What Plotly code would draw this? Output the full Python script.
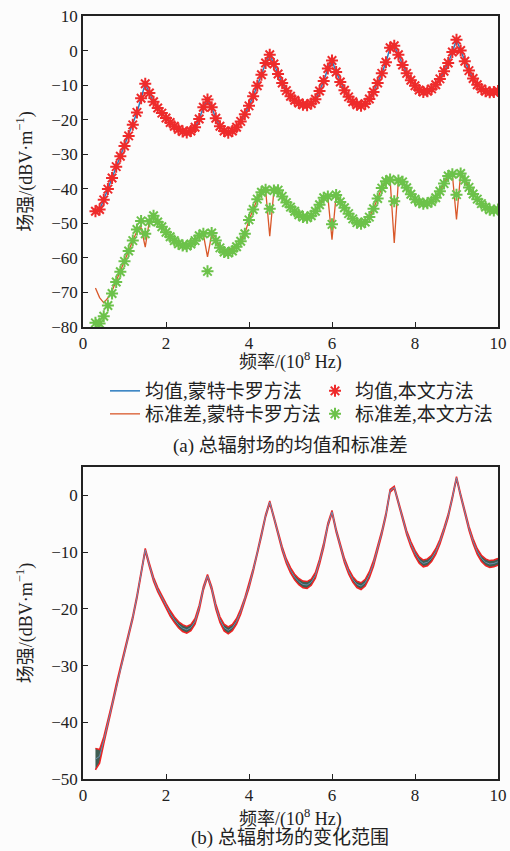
import plotly.graph_objects as go

# ---------------- data ----------------
freq = [0.3, 0.4, 0.5, 0.6, 0.7, 0.8, 0.9, 1.0, 1.1, 1.2, 1.3, 1.4, 1.5, 1.6, 1.7, 1.8, 1.9,
        2.0, 2.1, 2.2, 2.3, 2.4, 2.5, 2.6, 2.7, 2.8, 2.9, 3.0, 3.1, 3.2, 3.3, 3.4, 3.5, 3.6,
        3.7, 3.8, 3.9, 4.0, 4.1, 4.2, 4.3, 4.4, 4.5, 4.6, 4.7, 4.8, 4.9, 5.0, 5.1, 5.2, 5.3,
        5.4, 5.5, 5.6, 5.7, 5.8, 5.9, 6.0, 6.1, 6.2, 6.3, 6.4, 6.5, 6.6, 6.7, 6.8, 6.9, 7.0,
        7.1, 7.2, 7.3, 7.4, 7.5, 7.6, 7.7, 7.8, 7.9, 8.0, 8.1, 8.2, 8.3, 8.4, 8.5, 8.6, 8.7,
        8.8, 8.9, 9.0, 9.1, 9.2, 9.3, 9.4, 9.5, 9.6, 9.7, 9.8, 9.9, 10.0]

mean_mc = [-46.5, -46.0, -43.2, -40.1, -36.9, -33.6, -30.6, -27.6, -24.7, -21.5, -17.9, -13.8,
           -9.6, -12.3, -14.8, -16.6, -18.1, -19.5, -20.8, -21.9, -22.8, -23.4, -23.7, -23.3,
           -22.2, -19.8, -16.4, -14.2, -16.4, -19.6, -21.9, -23.3, -23.8, -23.3, -22.2, -20.5,
           -18.4, -16.0, -13.2, -10.2, -7.0, -3.6, -1.2, -3.9, -6.8, -9.4, -11.6, -13.2, -14.4,
           -15.2, -15.7, -15.8, -15.3, -14.1, -11.7, -8.8, -5.2, -2.9, -6.2, -9.1, -11.5, -13.4,
           -14.8, -15.7, -16.0, -15.4, -14.0, -12.0, -9.4, -6.6, -3.4, 0.8, 1.4, -1.2, -4.2,
           -6.6, -8.6, -10.2, -11.4, -12.0, -11.8, -11.1, -9.9, -8.2, -6.0, -3.6, -0.4, 3.1,
           0.0, -3.1, -5.8, -8.1, -9.9, -11.1, -11.8, -12.1, -12.0, -11.7]

mean_ours = [-46.5, -46.0, -43.2, -40.1, -36.9, -33.6, -30.6, -27.6, -24.7, -21.5, -17.9, -13.8,
             -9.6, -12.3, -14.8, -16.6, -18.1, -19.5, -20.8, -21.9, -22.8, -23.4, -23.7, -23.3,
             -22.2, -19.8, -16.4, -14.2, -16.4, -19.6, -21.9, -23.3, -23.8, -23.3, -22.2, -20.5,
             -18.4, -16.0, -13.2, -10.2, -7.0, -3.6, -1.2, -3.9, -6.8, -9.4, -11.6, -13.2, -14.4,
             -15.2, -15.7, -15.8, -15.3, -14.1, -11.7, -8.8, -5.2, -2.9, -6.2, -9.1, -11.5, -13.4,
             -14.8, -15.7, -16.0, -15.4, -14.0, -12.0, -9.4, -6.6, -3.4, 0.8, 1.4, -1.2, -4.2,
             -6.6, -8.6, -10.2, -11.4, -12.0, -11.8, -11.1, -9.9, -8.2, -6.0, -3.6, -0.4, 3.1,
             0.0, -3.1, -5.8, -8.1, -9.9, -11.1, -11.8, -12.1, -12.0, -11.7]

std_mc = [-68.7, -71.5, -73.0, -71.6, -69.6, -66.8, -64.0, -61.0, -58.0, -55.0, -52.3, -51.2,
          -56.9, -49.2, -48.0, -49.6, -51.0, -52.6, -53.9, -55.0, -55.9, -56.4, -56.6, -56.0,
          -55.0, -53.6, -53.2, -59.7, -53.3, -55.0, -56.9, -57.8, -57.7, -57.3, -56.5, -55.0,
          -53.0, -49.0, -46.0, -43.0, -41.0, -40.3, -53.7, -40.5, -40.4, -42.2, -44.0, -45.3,
          -46.5, -47.5, -48.2, -48.4, -47.8, -46.5, -44.6, -42.6, -42.2, -54.7, -41.8, -43.8,
          -45.5, -47.2, -48.7, -49.8, -50.1, -49.6, -48.2, -45.8, -42.8, -39.8, -37.8, -37.3,
          -55.7, -37.6, -38.0, -39.7, -41.6, -43.0, -43.9, -44.3, -44.2, -43.7, -42.6, -40.7,
          -38.5, -36.3, -35.8, -48.9, -35.6, -37.5, -39.6, -41.5, -43.0, -44.3, -45.3, -46.1,
          -46.3, -46.0]

std_ours = [-78.8, -79.0, -76.9, -73.8, -70.3, -67.0, -64.0, -61.0, -58.0, -55.0, -51.8, -49.3,
            -53.0, -49.5, -47.8, -49.6, -51.0, -52.6, -53.9, -55.0, -55.9, -56.4, -56.6, -56.0,
            -55.0, -53.6, -53.0, -63.9, -52.8, -55.0, -57.1, -58.3, -58.6, -58.0, -56.8, -55.2,
            -53.0, -49.0, -46.0, -43.0, -41.0, -40.3, -45.8, -40.5, -40.4, -42.2, -44.0, -45.3,
            -46.5, -47.5, -48.2, -48.4, -47.8, -46.5, -44.6, -42.6, -42.2, -50.3, -41.8, -43.8,
            -45.5, -47.2, -48.7, -49.8, -50.1, -49.6, -48.2, -45.8, -42.8, -39.8, -37.8, -37.3,
            -43.6, -37.6, -38.0, -39.7, -41.6, -43.0, -43.9, -44.3, -44.2, -43.7, -42.6, -40.7,
            -38.5, -36.3, -35.8, -41.7, -35.6, -37.5, -39.6, -41.5, -43.0, -44.3, -45.3, -46.1,
            -46.3, -46.0]

# half spread of the Monte Carlo sample range (panel b)
band_spread = [1.9, 1.2, 0.6,
               0.35, 0.3, 0.3, 0.3, 0.3, 0.3, 0.3, 0.3, 0.3,
               0.25,
               0.3, 0.35, 0.4, 0.4, 0.45,
               0.5, 0.5, 0.55, 0.6, 0.6, 0.55, 0.5, 0.45, 0.35,
               0.25,
               0.35, 0.45, 0.5, 0.6, 0.6, 0.55, 0.5, 0.45, 0.4,
               0.35, 0.3, 0.3, 0.25, 0.25,
               0.2,
               0.25, 0.3, 0.35, 0.4, 0.45, 0.5, 0.55, 0.6, 0.6, 0.55, 0.5, 0.45, 0.4, 0.3,
               0.25,
               0.3, 0.35, 0.4, 0.45, 0.5, 0.55, 0.6, 0.6, 0.55, 0.5, 0.4, 0.35, 0.3, 0.25,
               0.2,
               0.25, 0.3, 0.35, 0.45, 0.5, 0.55, 0.6, 0.6, 0.55, 0.5, 0.4, 0.35, 0.3, 0.25,
               0.2,
               0.25, 0.3, 0.35, 0.45, 0.5, 0.55, 0.6, 0.6, 0.6, 0.6]

x_ticks = [0, 2, 4, 6, 8, 10]
y1_ticks = [10, 0, -10, -20, -30, -40, -50, -60, -70, -80]
y2_ticks = [0, -10, -20, -30, -40, -50]

names = ["均值,蒙特卡罗方法", "标准差,蒙特卡罗方法", "均值,本文方法", "标准差,本文方法"]
x_title = "频率/(10<sup>8</sup> Hz)"
y_title = "场强/(dBV·m<sup>−1</sup>)"
caption_a = "(a) 总辐射场的均值和标准差"
caption_b = "(b) 总辐射场的变化范围"

band_lo = [m - s for m, s in zip(mean_mc, band_spread)]
band_hi = [m + s for m, s in zip(mean_mc, band_spread)]

# ---------------- figure ----------------
W, H = 510, 851
FONT = "Liberation Serif, Noto Sans CJK SC"
BLUE = "#2b7bbf"
ORANGE = "#d9582a"
RED = "#ee2b2b"
GREEN = "#6cc24a"
INK = "#222222"

fig = go.Figure()

fig.add_trace(go.Scatter(x=freq, y=mean_mc, mode="lines", name=names[0],
                         line=dict(color=BLUE, width=1.5), xaxis="x", yaxis="y", legend="legend"))
fig.add_trace(go.Scatter(x=freq, y=std_mc, mode="lines", name=names[1],
                         line=dict(color=ORANGE, width=1.3), xaxis="x", yaxis="y", legend="legend3"))
fig.add_trace(go.Scatter(x=freq, y=mean_ours, mode="markers", name=names[2],
                         marker=dict(symbol="asterisk-open", size=10, color=RED,
                                     line=dict(color=RED, width=2)),
                         xaxis="x", yaxis="y", legend="legend2"))
fig.add_trace(go.Scatter(x=freq, y=std_ours, mode="markers", name=names[3],
                         marker=dict(symbol="asterisk-open", size=10, color=GREEN,
                                     line=dict(color=GREEN, width=2)),
                         xaxis="x", yaxis="y", legend="legend4"))

# panel (b): range band
fig.add_trace(go.Scatter(x=freq, y=band_lo, mode="lines", line=dict(width=0, color="rgba(0,0,0,0)"),
                         showlegend=False, xaxis="x2", yaxis="y2", hoverinfo="skip"))
fig.add_trace(go.Scatter(x=freq, y=band_hi, mode="lines", line=dict(width=0, color="rgba(0,0,0,0)"),
                         fill="tonexty", fillcolor="#3f5e52",
                         showlegend=False, xaxis="x2", yaxis="y2", hoverinfo="skip"))
fig.add_trace(go.Scatter(x=freq, y=band_lo, mode="lines", line=dict(width=1.5, color="#f02424"),
                         showlegend=False, xaxis="x2", yaxis="y2"))
fig.add_trace(go.Scatter(x=freq, y=band_hi, mode="lines", line=dict(width=1.5, color="#f02424"),
                         showlegend=False, xaxis="x2", yaxis="y2"))
fig.add_trace(go.Scatter(x=freq, y=mean_mc, mode="lines", line=dict(width=1.0, color="#6a8fb3"),
                         showlegend=False, xaxis="x2", yaxis="y2"))

axis_common = dict(showline=True, mirror=True, linecolor=INK, linewidth=1.5,
                   ticks="inside", ticklen=5, tickwidth=1.2, tickcolor=INK,
                   showgrid=False, zeroline=False, automargin=False,
                   tickfont=dict(family=FONT, size=17, color=INK))

def leg(xpx, ypx_top):
    return dict(x=xpx / W, y=1 - ypx_top / H, xanchor="left", yanchor="top",
                bgcolor="rgba(0,0,0,0)", borderwidth=0, tracegroupgap=0,
                font=dict(family=FONT, size=19, color=INK))

def note(text, xpx, ypx, size=19):
    return dict(text=text, x=xpx / W, y=1 - ypx / H, xref="paper", yref="paper",
                showarrow=False, xanchor="center", yanchor="middle",
                font=dict(family=FONT, size=size, color=INK))

xdom = [83 / W, 498 / W]
fig.update_layout(
    width=W, height=H,
    margin=dict(l=0, r=0, t=0, b=0, autoexpand=False),
    paper_bgcolor="#fcfcfc", plot_bgcolor="#fcfcfc",
    font=dict(family=FONT, size=17, color=INK),
    xaxis=dict(domain=xdom, range=[0, 10], tickvals=x_ticks, anchor="y", **axis_common),
    yaxis=dict(domain=[1 - 327 / H, 1 - 16 / H], range=[-80, 10], tickvals=y1_ticks, anchor="x",
               title=dict(text=y_title, font=dict(family=FONT, size=18), standoff=14),
               **axis_common),
    xaxis2=dict(domain=xdom, range=[0, 10], tickvals=x_ticks, anchor="y2", **axis_common),
    yaxis2=dict(domain=[1 - 779 / H, 1 - 467 / H], range=[-50, 5], tickvals=y2_ticks, anchor="x2",
                title=dict(text=y_title, font=dict(family=FONT, size=18), standoff=14),
                **axis_common),
    legend=leg(105, 372),
    legend2=leg(315, 372),
    legend3=leg(105, 395),
    legend4=leg(315, 395),
    annotations=[
        note(x_title, 290, 361, 18),
        note(x_title, 290, 818, 18),
        note(caption_a, 290, 446),
        note(caption_b, 290, 838),
    ],
)

fig.write_html("out.html", config={"displayModeBar": False},
               post_script="document.body.style.margin='0';document.body.style.overflow='hidden';")
